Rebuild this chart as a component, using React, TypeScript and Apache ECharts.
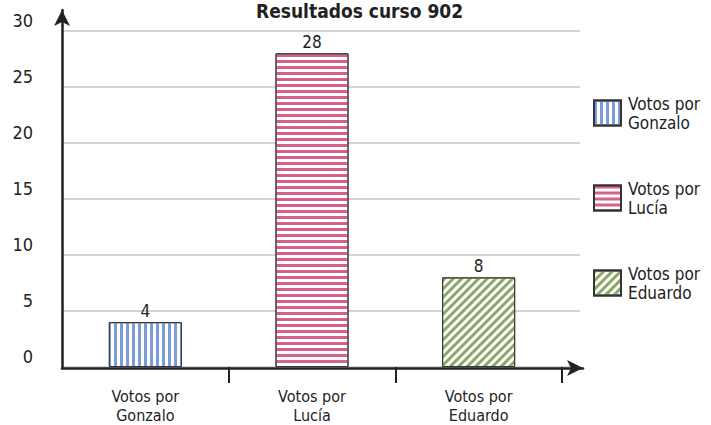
import React, { useEffect, useRef } from "react";
import * as echarts from "echarts";

const title = "Resultados curso 902";
const categories = ["Votos por\nGonzalo", "Votos por\nLucía", "Votos por\nEduardo"];
const votes = [4, 28, 8];
const yTicks = [0, 5, 10, 15, 20, 25, 30];
const stripeColors = ["#7d9dd8", "#d5628d", "#8ca768"];

const FONT = "DejaVu Sans Condensed, DejaVu Sans, sans-serif";
const INK = "#222222";

const decals = [
  { symbol: "rect", color: stripeColors[0], dashArrayX: [3, 2.2], dashArrayY: [10, 0], symbolSize: 1 },
  { symbol: "rect", color: stripeColors[1], dashArrayX: [10, 0], dashArrayY: [3, 2.3], symbolSize: 1 },
  { symbol: "rect", color: stripeColors[2], dashArrayX: [10, 0], dashArrayY: [2.6, 2.4], symbolSize: 1, rotation: -Math.PI / 4 },
];

export default function App() {
  const ref = useRef<HTMLDivElement>(null);
  useEffect(() => {
    document.body.style.margin = "0";
    const chart = echarts.init(ref.current!, undefined, { renderer: "svg" });
    const yMax = yTicks[yTicks.length - 1];
    chart.setOption({
      animation: false,
      title: {
        text: title,
        left: 256,
        top: 1,
        padding: 0,
        textStyle: { fontFamily: FONT, fontSize: 19, fontWeight: "bold", color: INK },
      },
      legend: {
        orient: "vertical",
        left: 593,
        top: 93,
        padding: 0,
        itemWidth: 27,
        itemHeight: 25,
        itemGap: 45,
        icon: "rect",
        selectedMode: false,
        data: categories,
        textStyle: { fontFamily: FONT, fontSize: 17, lineHeight: 19, color: INK, padding: [2, 0, 0, 2] },
      },
      grid: [
        { left: 62, right: 131, top: 31, bottom: 58, outerBoundsMode: "none", containLabel: false },
        { left: 62, right: 149, top: 31, bottom: 58, outerBoundsMode: "none", containLabel: false },
        { left: 62, right: 128, top: 10, bottom: 57, outerBoundsMode: "none", containLabel: false },
      ],
      xAxis: [
        { type: "value", gridIndex: 0, min: 0, max: 1, show: false },
        {
          type: "category",
          gridIndex: 1,
          data: categories,
          axisLine: { show: false },
          axisTick: {
            show: true,
            length: 16,
            interval: (i: number) => i !== 0,
            lineStyle: { color: INK, width: 2 },
          },
          axisLabel: { interval: 0, margin: 20, fontFamily: FONT, fontSize: 16, lineHeight: 19, color: INK },
        },
        {
          type: "value",
          gridIndex: 2,
          min: 0,
          max: 1,
          axisLine: { show: true, symbol: ["none", "arrow"], symbolSize: [12, 16], lineStyle: { color: INK, width: 2.5 } },
          axisTick: { show: false },
          axisLabel: { show: false },
          splitLine: { show: false },
        },
      ],
      yAxis: [
        {
          type: "value",
          gridIndex: 0,
          min: 0,
          max: yMax,
          interval: yTicks[1] - yTicks[0],
          axisLine: { show: false },
          axisTick: { show: false },
          splitLine: { show: true, lineStyle: { color: "#c4c4c4", width: 1.5 } },
          axisLabel: { margin: 29, fontFamily: FONT, fontSize: 18, color: INK, verticalAlign: "bottom", lineHeight: 22 },
        },
        { type: "value", gridIndex: 1, min: 0, max: yMax, show: false },
        {
          type: "value",
          gridIndex: 2,
          min: 0,
          max: 1,
          axisLine: { show: true, symbol: ["none", "arrow"], symbolSize: [12, 16], lineStyle: { color: INK, width: 2.5 } },
          axisTick: { show: false },
          axisLabel: { show: false },
          splitLine: { show: false },
        },
      ],
      series: categories.map((name, i) => ({
        type: "bar",
        name,
        xAxisIndex: 1,
        yAxisIndex: 1,
        barGap: "-100%",
        barWidth: 73,
        data: votes.map((v, j) => (j === i ? v : "-")),
        itemStyle: { color: "#ffffff", borderColor: "#333333", borderWidth: 1, decal: decals[i] },
        label: { show: true, position: "top", distance: 3, fontFamily: FONT, fontSize: 17, color: INK },
      })),
    });
    return () => chart.dispose();
  }, []);
  return <div ref={ref} style={{ width: 711, height: 425 }} />;
}
